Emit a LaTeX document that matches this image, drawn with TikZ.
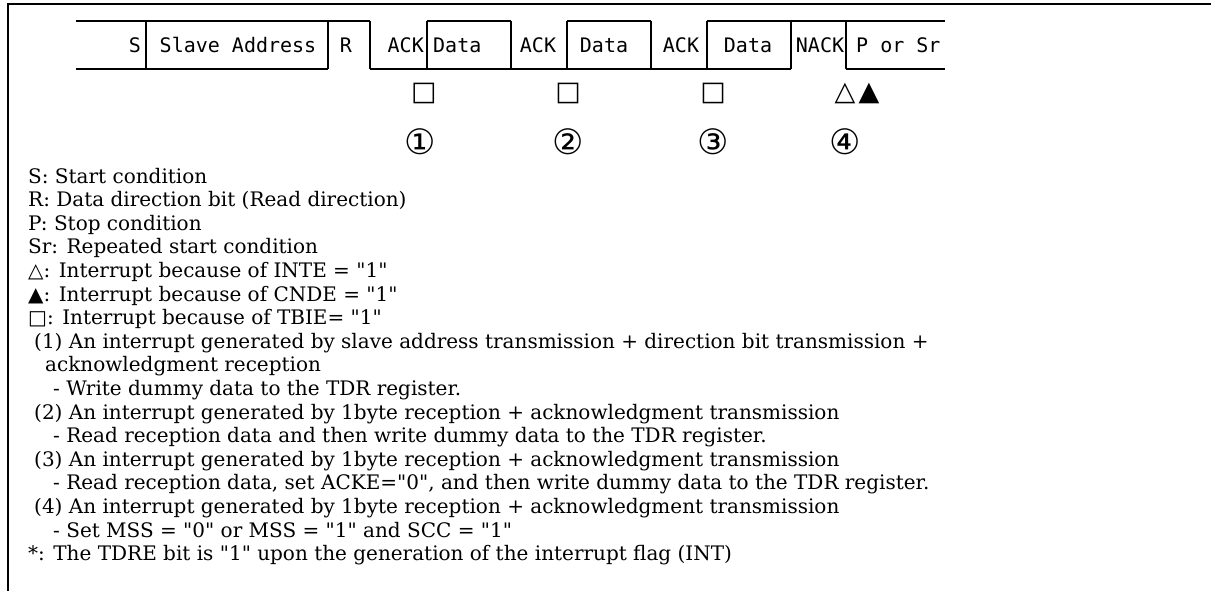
\documentclass[tikz,border=0pt]{standalone}
\usepackage{fontspec}
\setmainfont{DejaVu Serif}[Ligatures=TeXOff]
\setmonofont{DejaVu Sans Mono}
\newfontfamily\symfont{DejaVu Sans}
\tikzstyle{bus}=[line width=1.6pt]
\tikzstyle{fld}=[font=\ttfamily\fontsize{20}{20}\selectfont, inner sep=0]
\tikzstyle{mk}=[font=\symfont\fontsize{27}{27}\selectfont, inner sep=0]
\tikzstyle{num}=[font=\symfont\fontsize{35}{35}\selectfont, inner sep=0]
\tikzstyle{txt}=[font=\fontsize{20}{20}\selectfont, anchor=base west, inner sep=0]

\begin{document}
\begin{tikzpicture}[x=1pt,y=-1pt]
\useasboundingbox (0,0) rectangle (1211,591);
\draw[line width=1.5pt] (8,591) -- (8,4) -- (1211,4);
% frame
\draw[bus] (76,21) -- (370,21);
\draw[bus] (427,21) -- (511,21);
\draw[bus] (567,21) -- (651,21);
\draw[bus] (707,21) -- (945,21);
\draw[bus] (76,69) -- (328,69);
\draw[bus] (370,69) -- (791,69);
\draw[bus] (846,69) -- (945,69);
\foreach \x in {146,328,370,427,511,567,651,707,791,846}
  \draw[bus] (\x,21) -- (\x,69);
\node at (141,45) [fld, anchor=east](s){S};
\node at (238,45) [fld](sa){Slave Address};
\node at (346,45) [fld](r){R};
\node at (424,45) [fld, anchor=east](ack1){ACK};
\node at (433,45) [fld, anchor=west](d1){Data};
\node at (538,45) [fld](ack2){ACK};
\node at (604,45) [fld](d2){Data};
\node at (681,45) [fld](ack3){ACK};
\node at (748,45) [fld](d3){Data};
\node at (820,45) [fld](nack){NACK};
\node at (856,45) [fld, anchor=west](p){P or Sr};
% interrupt marks
\node at (424,93) [mk](m1){□};
\node at (568,93) [mk](m2){□};
\node at (713,93) [mk](m3){□};
\node at (845,93) [mk](m4){△};
\node at (869,93) [mk](m5){▲};
\node at (420,142) [num](n1){①};
\node at (568,142) [num](n2){②};
\node at (713,142) [num](n3){③};
\node at (845,142) [num](n4){④};
% legend
\node at (28,183) [txt](t1){S: Start condition};
\node at (28,206.6) [txt](t2){R: Data direction bit (Read direction)};
\node at (28,230.2) [txt](t3){P: Stop condition};
\node at (28,253.8) [txt](t4){Sr: Repeated start condition};
\node at (28,277.4) [txt](t5){{\symfont △}: Interrupt because of INTE = "1"};
\node at (28,301) [txt](t6){{\symfont ▲}: Interrupt because of CNDE = "1"};
\node at (28,324.6) [txt](t7){{\symfont\bfseries □}: Interrupt because of TBIE= "1"};
\node at (34,348.2) [txt](t8){(1) An interrupt generated by slave address transmission + direction bit transmission +};
\node at (45,371.8) [txt](t9){acknowledgment reception};
\node at (53,395.4) [txt](t10){- Write dummy data to the TDR register.};
\node at (34,419) [txt](t11){(2) An interrupt generated by 1byte reception + acknowledgment transmission};
\node at (53,442.6) [txt](t12){- Read reception data and then write dummy data to the TDR register.};
\node at (34,466.2) [txt](t13){(3) An interrupt generated by 1byte reception + acknowledgment transmission};
\node at (53,489.8) [txt](t14){- Read reception data, set ACKE="0", and then write dummy data to the TDR register.};
\node at (34,513.4) [txt](t15){(4) An interrupt generated by 1byte reception + acknowledgment transmission};
\node at (53,537) [txt](t16){- Set MSS = "0" or MSS = "1" and SCC = "1"};
\node at (28,560.6) [txt](t17){*: The TDRE bit is "1" upon the generation of the interrupt flag (INT)};
\end{tikzpicture}
\end{document}
